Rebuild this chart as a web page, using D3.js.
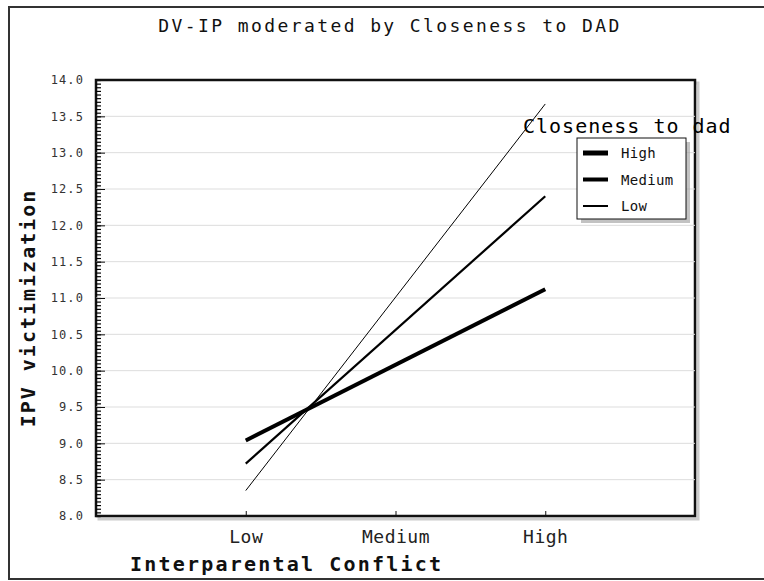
<!DOCTYPE html>
<html>
<head>
<meta charset="utf-8">
<script src="https://cdn.jsdelivr.net/npm/d3@7"></script>
<style>
  html, body { margin: 0; padding: 0; background: #fff; }
  svg { display: block; font-family: 'DejaVu Sans Mono', 'Liberation Mono', monospace; }
</style>
</head>
<body>
<svg id="chart" width="764" height="581"></svg>
<script>
// categories on the x axis
const conflictLevels = ['Low', 'Medium', 'High']
// the lines are straight, read at the two ends
const pointLevels = ['Low', 'High']
// moderator groups (closeness to dad)
const closenessGroups = ['High', 'Medium', 'Low']
const highCloseness = [9.04, 11.12]
const mediumCloseness = [8.72, 12.40]
const lowCloseness = [8.35, 13.67]
// y axis ticks
const yMajorTicks = [8.0, 8.5, 9.0, 9.5, 10.0, 10.5, 11.0, 11.5, 12.0, 12.5, 13.0, 13.5, 14.0]

const seriesValues = [highCloseness, mediumCloseness, lowCloseness]
const lineWidths = { High: 4, Medium: 2.2, Low: 1 }
const legendWidths = { High: 5, Medium: 4, Low: 2 }

const svg = d3.select('#chart')
const margin = { top: 80, right: 69, bottom: 65, left: 96 }
const width = 764, height = 581

// outer frame
svg.append('rect')
  .attr('x', 9).attr('y', 7)
  .attr('width', 800).attr('height', 572)
  .attr('fill', 'none')
  .attr('stroke', '#333')
  .attr('stroke-width', 2)

const x = d3.scalePoint()
  .domain(conflictLevels)
  .range([margin.left, width - margin.right])
  .padding(1)

const y = d3.scaleLinear()
  .domain([8, 14])
  .range([height - margin.bottom, margin.top])

// plot shadow + frame
svg.append('rect')
  .attr('x', margin.left + 3).attr('y', margin.top + 3)
  .attr('width', width - margin.right - margin.left)
  .attr('height', height - margin.bottom - margin.top)
  .attr('fill', 'none')
  .attr('stroke', '#ccc')
  .attr('stroke-width', 3)
svg.append('rect')
  .attr('x', margin.left).attr('y', margin.top)
  .attr('width', width - margin.right - margin.left)
  .attr('height', height - margin.bottom - margin.top)
  .attr('fill', '#fff')
  .attr('stroke', '#111')
  .attr('stroke-width', 2.5)

// grid
svg.append('g')
  .selectAll('line')
  .data(yMajorTicks.filter(d => d > 8 && d < 14))
  .join('line')
    .attr('x1', margin.left).attr('x2', width - margin.right)
    .attr('y1', d => y(d)).attr('y2', d => y(d))
    .attr('stroke', '#ddd')
    .attr('stroke-width', 1)

// y axis, minor then major ticks
const minorTicks = d3.range(0, 121).map(i => 8 + i * 0.05)
svg.append('g')
  .attr('transform', `translate(${margin.left},0)`)
  .call(d3.axisLeft(y).tickValues(minorTicks).tickSize(-5).tickFormat(''))
  .call(g => g.select('.domain').remove())
  .call(g => g.selectAll('line').attr('stroke', '#000').attr('stroke-width', 1.2))

svg.append('g')
  .attr('transform', `translate(${margin.left},0)`)
  .call(d3.axisLeft(y).tickValues(yMajorTicks).tickSize(-9).tickPadding(12).tickFormat(d3.format('.1f')))
  .call(g => g.select('.domain').remove())
  .call(g => g.selectAll('line').attr('stroke', '#111'))
  .call(g => g.selectAll('text')
    .attr('font-family', "'DejaVu Sans Mono', monospace")
    .attr('font-size', 12)
    .attr('letter-spacing', 1.1)
    .attr('fill', '#333'))

// x axis
svg.append('g')
  .attr('transform', `translate(0,${height - margin.bottom})`)
  .call(d3.axisBottom(x).tickSize(-5).tickPadding(14))
  .call(g => g.select('.domain').remove())
  .call(g => g.selectAll('line').attr('stroke', '#111'))
  .call(g => g.selectAll('text')
    .attr('font-family', "'DejaVu Sans Mono', monospace")
    .attr('font-size', 18)
    .attr('letter-spacing', 0.5)
    .attr('fill', '#222'))

// lines
const line = d3.line()
  .x((d, i) => x(pointLevels[i]))
  .y(d => y(d))

closenessGroups.forEach((grp, i) => {
  svg.append('path')
    .datum(seriesValues[i])
    .attr('fill', 'none')
    .attr('stroke', '#000')
    .attr('stroke-width', lineWidths[grp])
    .attr('d', line)
})

// titles
svg.append('text')
  .attr('x', 390).attr('y', 32)
  .attr('text-anchor', 'middle')
  .attr('font-size', 18)
  .attr('letter-spacing', 2.4)
  .attr('fill', '#111')
  .text('DV-IP moderated by Closeness to DAD')

svg.append('text')
  .attr('x', 130).attr('y', 571)
  .attr('font-size', 20)
  .attr('font-weight', 'bold')
  .attr('letter-spacing', 2.2)
  .attr('fill', '#111')
  .text('Interparental Conflict')

svg.append('text')
  .attr('transform', 'translate(35,308) rotate(-90)')
  .attr('text-anchor', 'middle')
  .attr('font-size', 20)
  .attr('font-weight', 'bold')
  .attr('letter-spacing', 2)
  .attr('fill', '#111')
  .text('IPV victimization')

// legend
svg.append('text')
  .attr('x', 523).attr('y', 133)
  .attr('font-size', 20)
  .attr('letter-spacing', 1)
  .attr('fill', '#000')
  .text('Closeness to dad')

const legend = svg.append('g').attr('transform', 'translate(577,138)')
legend.append('rect')
  .attr('x', 4).attr('y', 4).attr('width', 109).attr('height', 81)
  .attr('fill', '#999').attr('opacity', 0.6)
legend.append('rect')
  .attr('width', 109).attr('height', 81)
  .attr('fill', '#fff').attr('stroke', '#111').attr('stroke-width', 1)

closenessGroups.forEach((grp, i) => {
  const row = legend.append('g').attr('transform', `translate(0,${15 + i * 26.5})`)
  row.append('line')
    .attr('x1', 6).attr('x2', 31)
    .attr('stroke', '#000')
    .attr('stroke-width', legendWidths[grp])
  row.append('text')
    .attr('x', 44).attr('y', 5)
    .attr('font-size', 14)
    .attr('letter-spacing', 0.3)
    .attr('fill', '#111')
    .text(grp)
})
</script>
</body>
</html>
